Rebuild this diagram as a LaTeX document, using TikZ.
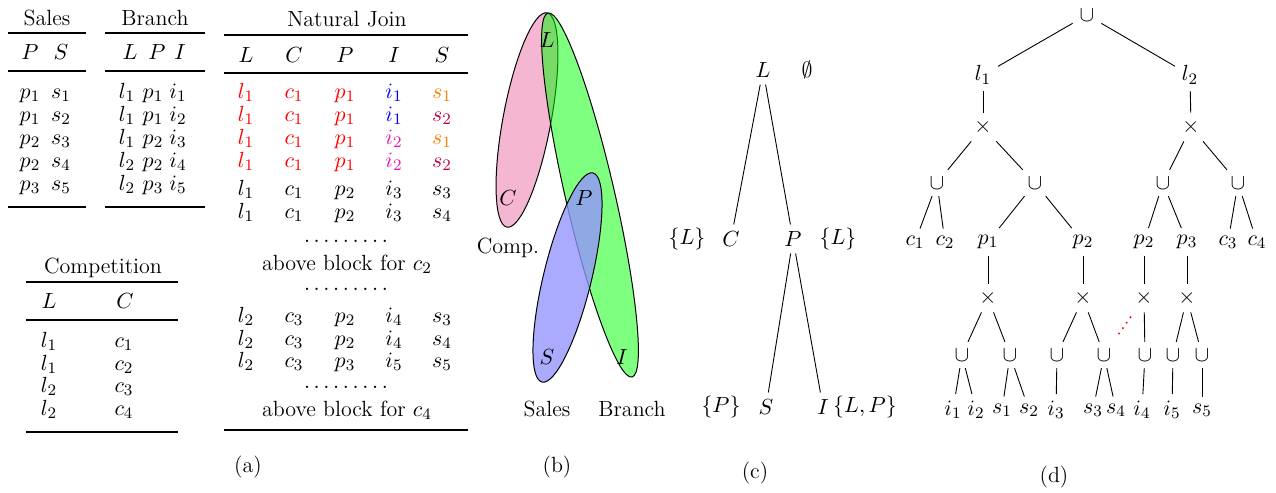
\documentclass[tikz,border=0pt]{standalone}
\usepackage{xcolor}
\definecolor{pinkfill}{RGB}{235,110,165}
\definecolor{greenfill}{RGB}{0,255,0}
\definecolor{bluefill}{RGB}{147,147,255}
\definecolor{jred}{RGB}{255,0,0}
\definecolor{jblue}{RGB}{0,0,255}
\definecolor{jorange}{RGB}{255,128,0}
\definecolor{jpurple}{RGB}{191,0,64}
\definecolor{jmag}{RGB}{235,20,175}
\begin{document}
\begin{tikzpicture}[x=0.5pt,y=-0.5pt,
  every node/.style={font=\fontsize{11}{13}\selectfont},
  cell/.style={anchor=base,inner sep=0pt},
  heavy/.style={line width=0.9pt},
  light/.style={line width=0.55pt},
  venn/.style={draw=black,line width=0.5pt},
  lab/.style={inner sep=0pt},
  edge/.style={draw=black,line width=0.45pt}]
\useasboundingbox (0,0) rectangle (1276,493);

%% ---------- (a) Sales ----------
\node[cell] (salesT) at (47,25) {Sales};
\draw[heavy] (8,33) -- (86,33);
\node[cell] (salesP) at (30,59) {$P$};
\node[cell] (salesS) at (61,59) {$S$};
\draw[light] (8,71) -- (86,71);
\foreach \p/\s/\y [count=\k] in {1/1/98,1/2/121,2/3/144,2/4/167,3/5/190}{
  \node[cell] (sp\k) at (30,\y) {$p_{\p}$};
  \node[cell] (ss\k) at (61,\y) {$s_{\s}$};
}
\draw[heavy] (8,207) -- (86,207);

%% ---------- Branch ----------
\node[cell] (brT) at (155,25) {Branch};
\draw[heavy] (105,33) -- (205,33);
\node[cell] (brL) at (130,59) {$L$};
\node[cell] (brP) at (157,59) {$P$};
\node[cell] (brI) at (180,59) {$I$};
\draw[light] (105,71) -- (205,71);
\foreach \l/\p/\i/\y [count=\k] in {1/1/1/98,1/1/2/121,1/2/3/144,2/2/4/167,2/3/5/190}{
  \node[cell] (bl\k) at (127,\y) {$l_{\l}$};
  \node[cell] (bp\k) at (153,\y) {$p_{\p}$};
  \node[cell] (bi\k) at (178,\y) {$i_{\i}$};
}
\draw[heavy] (105,207) -- (205,207);

%% ---------- Competition ----------
\node[cell] (coT) at (103,273) {Competition};
\draw[heavy] (26,282) -- (178,282);
\node[cell] (coL) at (49,308) {$L$};
\node[cell] (coC) at (125,308) {$C$};
\draw[light] (26,320) -- (178,320);
\foreach \l/\c/\y [count=\k] in {1/1/347,1/2/370,2/3/392,2/4/415}{
  \node[cell] (cl\k) at (49,\y) {$l_{\l}$};
  \node[cell] (cc\k) at (124,\y) {$c_{\c}$};
}
\draw[heavy] (26,432) -- (178,432);

%% ---------- Natural Join ----------
\node[cell] (njT) at (347,26) {Natural Join};
\draw[heavy] (224,35) -- (468,35);
\foreach \h/\x [count=\k] in {L/246,C/294,P/345,I/394,S/442}{
  \node[cell] (njh\k) at (\x,62) {$\h$};
}
\draw[light] (224,73) -- (468,73);
\foreach \l/\c/\p/\i/\s/\ci/\cs/\y [count=\k] in {
  1/1/1/1/1/jblue/jorange/98,
  1/1/1/1/2/jblue/jpurple/121,
  1/1/1/2/1/jmag/jorange/144,
  1/1/1/2/2/jmag/jpurple/167}{
  \node[cell,text=jred] (nja\k) at (246,\y) {$l_{\l}$};
  \node[cell,text=jred] (njb\k) at (294,\y) {$c_{\c}$};
  \node[cell,text=jred] (njc\k) at (345,\y) {$p_{\p}$};
  \node[cell,text=\ci] (njd\k) at (394,\y) {$i_{\i}$};
  \node[cell,text=\cs] (nje\k) at (442,\y) {$s_{\s}$};
}
\foreach \l/\c/\p/\i/\s/\y [count=\k from 5] in {
  1/1/2/3/3/195, 1/1/2/3/4/218,
  2/3/2/4/3/322, 2/3/2/4/4/345, 2/3/3/5/5/367}{
  \node[cell] (nja\k) at (246,\y) {$l_{\l}$};
  \node[cell] (njb\k) at (294,\y) {$c_{\c}$};
  \node[cell] (njc\k) at (345,\y) {$p_{\p}$};
  \node[cell] (njd\k) at (394,\y) {$i_{\i}$};
  \node[cell] (nje\k) at (442,\y) {$s_{\s}$};
}
\node[cell] (njdots1) at (346,242) {$\ldots\ldots\ldots$};
\node[cell] (njab2) at (347,270) {above block for $c_2$};
\node[cell] (njdots2) at (346,290) {$\ldots\ldots\ldots$};
\node[cell] (njdots3) at (346,388) {$\ldots\ldots\ldots$};
\node[cell] (njab4) at (347,416) {above block for $c_4$};
\draw[heavy] (224,430) -- (468,430);

%% ---------- (b) hypergraph ----------
\fill[pinkfill,fill opacity=0.5,rotate around={79.4:(527,120)}] (527,120) ellipse [x radius=54.5pt,y radius=12pt];
\draw[venn,rotate around={79.4:(527,120)}] (527,120) ellipse [x radius=54.5pt,y radius=12pt];
\fill[greenfill,fill opacity=0.5,rotate around={103:(590,195)}] (590,195) ellipse [x radius=93.4pt,y radius=12.3pt];
\draw[venn,rotate around={103:(590,195)}] (590,195) ellipse [x radius=93.4pt,y radius=12.3pt];
\fill[bluefill,fill opacity=0.79,rotate around={76.3:(567.5,277.5)}] (567.5,277.5) ellipse [x radius=53.8pt,y radius=12pt];
\draw[venn,rotate around={76.3:(567.5,277.5)}] (567.5,277.5) ellipse [x radius=53.8pt,y radius=12pt];
\node[lab] (bL) at (547,40) {$L$};
\node[lab] (bC) at (508,198) {$C$};
\node[lab] (bP) at (584,198) {$P$};
\node[lab] (bS) at (547,357) {$S$};
\node[lab] (bI) at (622,357) {$I$};
\node[lab] (bComp) at (508,248) {Comp.};
\node[lab] (bSales) at (547,409) {Sales};
\node[lab] (bBranch) at (632,409) {Branch};

%% ---------- (c) join tree ----------
\node (cL) at (763,70) {$L$};
\node (cEmpty) at (807,70) {$\emptyset$};
\node (cC) at (731,239) {$C$};
\node (cCset) at (687,239) {$\{L\}$};
\node (cP) at (793,239) {$P$};
\node (cPset) at (838,239) {$\{L\}$};
\node (cS) at (766,407) {$S$};
\node (cSset) at (721,407) {$\{P\}$};
\node (cI) at (823,407) {$I$};
\node (cIset) at (865,407) {$\{L,P\}$};
\draw[edge] (cL) -- (cC);
\draw[edge] (cL) -- (cP);
\draw[edge] (cP) -- (cS);
\draw[edge] (cP) -- (cI);

%% ---------- (d) factorised tree ----------
\node (dr) at (1087,15) {$\cup$};
\node (dl1) at (983,75) {$l_1$};
\node (dl2) at (1190,75) {$l_2$};
\node (dx1) at (983,127) {$\times$};
\node (dx2) at (1191,127) {$\times$};
\node (du1) at (937,183) {$\cup$};
\node (du2) at (1035,183) {$\cup$};
\node (du3) at (1163,183) {$\cup$};
\node (du4) at (1238,183) {$\cup$};
\node (dc1) at (915,242) {$c_1$};
\node (dc2) at (945,242) {$c_2$};
\node (dp1) at (988,242) {$p_1$};
\node (dp2) at (1083,242) {$p_2$};
\node (dp2b) at (1144,242) {$p_2$};
\node (dp3) at (1187,242) {$p_3$};
\node (dc3) at (1228,242) {$c_3$};
\node (dc4) at (1257,242) {$c_4$};
\node (dx3) at (988,298) {$\times$};
\node (dx4) at (1083,298) {$\times$};
\node (dx5) at (1144,298) {$\times$};
\node (dx6) at (1187,298) {$\times$};
\node (dv1) at (962,355) {$\cup$};
\node (dv2) at (1010,355) {$\cup$};
\node (dv3) at (1057,355) {$\cup$};
\node (dv4) at (1104,355) {$\cup$};
\node (dv5) at (1145,355) {$\cup$};
\node (dv6) at (1173,355) {$\cup$};
\node (dv7) at (1202,355) {$\cup$};
\node (di1) at (953,410) {$i_1$};
\node (di2) at (976,410) {$i_2$};
\node (ds1) at (1002,410) {$s_1$};
\node (ds2) at (1029,410) {$s_2$};
\node (di3) at (1056,410) {$i_3$};
\node (ds3) at (1093,410) {$s_3$};
\node (ds4) at (1116,410) {$s_4$};
\node (di4) at (1142,410) {$i_4$};
\node (di5) at (1172,410) {$i_5$};
\node (ds5) at (1202,410) {$s_5$};
\foreach \a/\b in {dr/dl1,dr/dl2,dl1/dx1,dl2/dx2,dx1/du1,dx1/du2,dx2/du3,dx2/du4,
  du1/dc1,du1/dc2,du2/dp1,du2/dp2,du3/dp2b,du3/dp3,du4/dc3,du4/dc4,
  dp1/dx3,dp2/dx4,dp2b/dx5,dp3/dx6,
  dx3/dv1,dx3/dv2,dx4/dv3,dx4/dv4,dx5/dv5,dx6/dv6,dx6/dv7,
  dv1/di1,dv1/di2,dv2/ds1,dv2/ds2,dv3/di3,dv4/ds3,dv4/ds4,dv5/di4,dv6/di5,dv7/ds5}{
  \draw[edge] (\a) -- (\b);
}
\draw[red,line width=1.1pt,line cap=round,dash pattern=on 0pt off 3.3pt,shorten <=3pt,shorten >=3pt] (dx5) -- (dv4);

%% ---------- captions ----------
\node (capa) at (248,467) {(a)};
\node (capb) at (557,467) {(b)};
\node (capc) at (755,473) {(c)};
\node (capd) at (1054,477) {(d)};
\end{tikzpicture}
\end{document}
